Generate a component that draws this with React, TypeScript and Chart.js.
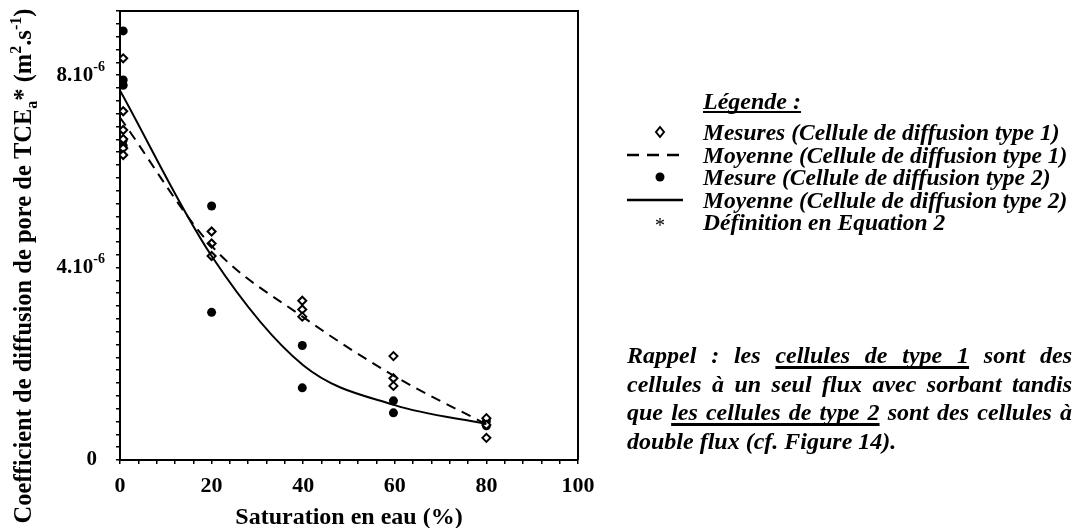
import React, { useEffect, useRef } from 'react';
import { Chart, registerables } from 'chart.js';

Chart.register(...registerables);

// Values in units of 1e-6 m².s-1
const type1X = [0.7, 0.7, 0.7, 0.7, 0.7, 0.7, 20, 20, 20, 39.8, 39.8, 39.8, 59.7, 59.7, 59.7, 80, 80, 80];
const type1Y = [8.35, 7.25, 6.86, 6.67, 6.48, 6.34, 4.75, 4.5, 4.24, 3.31, 3.13, 2.98, 2.16, 1.7, 1.54, 0.87, 0.73, 0.46];
const type2X = [0.7, 0.7, 0.7, 0.7, 0.7, 20, 20, 39.8, 39.8, 59.7, 59.7, 80, 80];
const type2Y = [8.92, 7.9, 7.79, 6.65, 6.53, 5.28, 3.07, 2.38, 1.5, 1.23, 0.98, 0.81, 0.71];
const meanX = [0, 20, 40, 60, 80];
const mean1Y = [7.12, 4.45, 2.97, 1.74, 0.74];
const mean2Y = [7.68, 4.24, 1.97, 1.14, 0.75];

const xTickValues = [0, 20, 40, 60, 80, 100];
const yTickValues = [0, 4, 8];
const yTickMantissa = ['0', '4.10', '8.10'];
const yTickExponent = ['', '-6', '-6'];

const Y_MAX = 9.3333;
const Y_MINOR_STEP = 4 / 15;
const X_MINOR_STEP = 4;

const SERIF = '"Liberation Serif", "Times New Roman", serif';

const yTitleParts = [
  { t: 'Coefficient de diffusion de pore de TCE', s: 24.5, dy: 0 },
  { t: 'a', s: 16, dy: 6 },
  { t: '*', s: 24.5, dy: 0 },
  { t: ' (m', s: 24.5, dy: 0 },
  { t: '2', s: 16, dy: -10 },
  { t: '.s', s: 24.5, dy: 0 },
  { t: '-1', s: 16, dy: -10 },
  { t: ')', s: 24.5, dy: 0 },
];

const legendItems = [
  { sym: 'diamond', text: 'Mesures (Cellule de diffusion type 1)' },
  { sym: 'dash', text: 'Moyenne (Cellule de diffusion type 1)' },
  { sym: 'dot', text: 'Mesure (Cellule de diffusion type 2)' },
  { sym: 'line', text: 'Moyenne (Cellule de diffusion type 2)' },
  { sym: 'star', text: 'Définition en Equation 2' },
];

const textPlugin = {
  id: 'textPlugin',
  afterDraw(chart: any) {
    const { ctx, chartArea } = chart;
    const xs = chart.scales.x;
    const ys = chart.scales.y;
    ctx.save();
    ctx.strokeStyle = '#000';
    ctx.lineWidth = 2;
    ctx.beginPath();
    ctx.moveTo(chartArea.left, chartArea.top);
    ctx.lineTo(chartArea.right, chartArea.top);
    ctx.lineTo(chartArea.right, chartArea.bottom);
    ctx.stroke();

    ctx.fillStyle = '#000';
    ctx.font = `bold 22px ${SERIF}`;
    ctx.textAlign = 'center';
    ctx.textBaseline = 'middle';
    xTickValues.forEach((v) => {
      ctx.fillText(String(v), xs.getPixelForValue(v), chartArea.bottom + 26);
    });
    ctx.font = `bold 24px ${SERIF}`;
    ctx.fillText('Saturation en eau (%)', (chartArea.left + chartArea.right) / 2, chartArea.bottom + 58);

    yTickValues.forEach((v, i) => {
      const y = ys.getPixelForValue(v);
      const right = yTickExponent[i] ? 105 : 97;
      ctx.textBaseline = 'middle';
      ctx.textAlign = 'right';
      let ew = 0;
      if (yTickExponent[i]) {
        ctx.font = `bold 14px ${SERIF}`;
        ew = ctx.measureText(yTickExponent[i]).width;
        ctx.fillText(yTickExponent[i], right, y - 8);
      }
      ctx.font = `bold 21px ${SERIF}`;
      ctx.fillText(yTickMantissa[i], right - ew, y);
    });

    ctx.translate(31, 266);
    ctx.rotate(-Math.PI / 2);
    ctx.textAlign = 'left';
    ctx.textBaseline = 'alphabetic';
    let total = 0;
    yTitleParts.forEach((p) => {
      ctx.font = `bold ${p.s}px ${SERIF}`;
      total += ctx.measureText(p.t).width;
    });
    let cx = -total / 2;
    yTitleParts.forEach((p) => {
      ctx.font = `bold ${p.s}px ${SERIF}`;
      ctx.fillText(p.t, cx, p.dy);
      cx += ctx.measureText(p.t).width;
    });
    ctx.restore();
  },
};

function LegendSymbol({ sym }: { sym: string }) {
  return (
    <svg width={70} height={24} style={{ position: 'absolute', left: 620, top: 0 }}>
      {sym === 'diamond' && (
        <polygon points="40,7 44,12 40,17 36,12" fill="#fff" stroke="#000" strokeWidth={2} />
      )}
      {sym === 'dot' && <circle cx={40} cy={12} r={4.5} fill="#000" />}
      {sym === 'dash' && (
        <line x1={7} y1={12} x2={63} y2={12} stroke="#000" strokeWidth={2.5} strokeDasharray="12 8" />
      )}
      {sym === 'line' && <line x1={7} y1={12} x2={63} y2={12} stroke="#000" strokeWidth={2.5} />}
      {sym === 'star' && (
        <text x={40} y={22} textAnchor="middle" fontSize={20} fontFamily={SERIF}>*</text>
      )}
    </svg>
  );
}

const paraLines: { parts: { t: string; u?: boolean }[]; last?: boolean }[] = [
  { parts: [{ t: 'Rappel : les ' }, { t: 'cellules de type 1', u: true }, { t: ' sont des' }] },
  { parts: [{ t: 'cellules à un seul flux avec sorbant tandis' }] },
  { parts: [{ t: 'que ' }, { t: 'les cellules de type 2', u: true }, { t: ' sont des cellules à' }] },
  { parts: [{ t: 'double flux (cf. Figure 14).' }], last: true },
];

export default function App() {
  const canvasRef = useRef<HTMLCanvasElement>(null);

  useEffect(() => {
    if (!canvasRef.current) return;
    const chart = new Chart(canvasRef.current, {
      type: 'scatter',
      data: {
        datasets: [
          {
            label: 'Moyenne type 1',
            data: meanX.map((x, i) => ({ x, y: mean1Y[i] })),
            showLine: true,
            borderColor: '#000',
            borderWidth: 2,
            borderDash: [10, 7],
            pointRadius: 0,
            cubicInterpolationMode: 'monotone',
            fill: false,
          },
          {
            label: 'Moyenne type 2',
            data: meanX.map((x, i) => ({ x, y: mean2Y[i] })),
            showLine: true,
            borderColor: '#000',
            borderWidth: 2,
            pointRadius: 0,
            cubicInterpolationMode: 'monotone',
            fill: false,
          },
          {
            label: 'Mesures type 1',
            data: type1X.map((x, i) => ({ x, y: type1Y[i] })),
            showLine: false,
            pointStyle: 'rectRot',
            pointRadius: 4,
            pointBackgroundColor: '#fff',
            pointBorderColor: '#000',
            pointBorderWidth: 2,
          },
          {
            label: 'Mesure type 2',
            data: type2X.map((x, i) => ({ x, y: type2Y[i] })),
            showLine: false,
            pointStyle: 'circle',
            pointRadius: 4.5,
            pointBackgroundColor: '#000',
            pointBorderColor: '#000',
            pointBorderWidth: 0,
          },
        ],
      } as any,
      options: {
        animation: false,
        responsive: false,
        devicePixelRatio: 1,
        layout: { padding: { left: 116, top: 11, right: 506, bottom: 64 } },
        plugins: { legend: { display: false }, tooltip: { enabled: false } },
        scales: {
          x: {
            type: 'linear',
            min: 0,
            max: 100,
            ticks: { display: false, stepSize: X_MINOR_STEP },
            grid: { drawOnChartArea: false, drawTicks: true, tickLength: 4, color: '#000', lineWidth: 1.5 },
            border: { display: true, color: '#000', width: 2 },
          },
          y: {
            type: 'linear',
            min: 0,
            max: Y_MAX,
            ticks: { display: false, stepSize: Y_MINOR_STEP },
            grid: { drawOnChartArea: false, drawTicks: true, tickLength: 4, color: '#000', lineWidth: 1.5 },
            border: { display: true, color: '#000', width: 2 },
          },
        },
      } as any,
      plugins: [textPlugin],
    });
    return () => chart.destroy();
  }, []);

  const rowCenters = [132, 154.5, 177, 199.5, 222];

  return (
    <div style={{ position: 'fixed', left: 0, top: 0, width: 1084, height: 528, background: '#fff', overflow: 'hidden' }}>
      <canvas ref={canvasRef} width={1084} height={528} style={{ position: 'absolute', left: 0, top: 0 }} />
      <div
        style={{
          position: 'absolute',
          left: 703,
          top: 89,
          font: `italic bold 24px ${SERIF}`,
          lineHeight: '24px',
          textDecoration: 'underline',
          textDecorationSkipInk: 'none',
          whiteSpace: 'nowrap',
        } as any}
      >
        Légende :
      </div>
      {legendItems.map((it, i) => (
        <div key={i} style={{ position: 'absolute', left: 0, top: rowCenters[i] - 12, height: 24, width: 1084 }}>
          <LegendSymbol sym={it.sym} />
          <div
            style={{
              position: 'absolute',
              left: 703,
              top: 0,
              font: `italic bold 23.5px ${SERIF}`,
              lineHeight: '24px',
              whiteSpace: 'nowrap',
            }}
          >
            {it.text}
          </div>
        </div>
      ))}
      <div style={{ position: 'absolute', left: 627, top: 341, width: 445, font: `italic bold 24px ${SERIF}`, lineHeight: '28.5px' }}>
        {paraLines.map((ln, i) => (
          <div
            key={i}
            style={{ textAlign: ln.last ? 'left' : 'justify', textAlignLast: ln.last ? 'left' : 'justify', whiteSpace: 'nowrap' } as any}
          >
            {ln.parts.map((p, j) => (
              <span
                key={j}
                style={
                  p.u
                    ? ({ textDecoration: 'underline', textDecorationThickness: '3px', textUnderlineOffset: '3px', textDecorationSkipInk: 'none' } as any)
                    : undefined
                }
              >
                {p.t}
              </span>
            ))}
          </div>
        ))}
      </div>
    </div>
  );
}
